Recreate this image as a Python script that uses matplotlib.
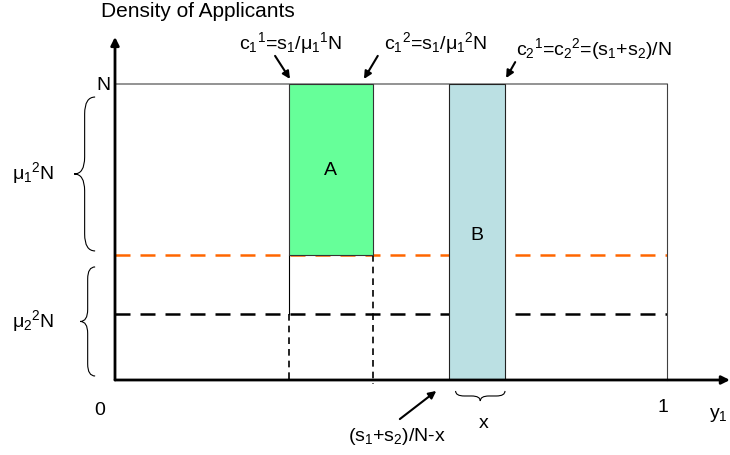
import matplotlib.pyplot as plt
from matplotlib.patches import Rectangle, PathPatch
from matplotlib.path import Path

# ─── Diagram values (x in share of applicants, y in units of N) ───────────────

C11 = 0.315          # c_1^1 = s_1 / mu_1^1 N
C12 = 0.467          # c_1^2 = s_1 / mu_1^2 N
C2 = 0.7065          # c_2^1 = c_2^2 = (s_1+s_2)/N
X_WIDTH = 0.1015     # x
ORANGE_LEVEL = 0.422
BLACK_LEVEL = 0.223
TOP = 1.0            # N

GREEN = "#66ff99"
BLUE = "#bbe0e3"
ORANGE = "#ff6600"

plt.rcParams.update({
    "font.family": ["Liberation Sans", "DejaVu Sans"],
    "mathtext.fontset": "custom",
    "mathtext.rm": "Liberation Sans",
    "mathtext.it": "Liberation Sans",
    "mathtext.default": "regular",
})

FS = 14


def brace_path(start, end, depth):
    # curly brace from start to end along one axis, tip pushed out by depth
    a, b = start, end
    m = (a + b) / 2
    s = 1 if b > a else -1
    k = min(0.35 * abs(b - a) / 2, abs(depth) * 1.5)
    pts = [
        (0, a),
        (depth / 2, a), (depth / 2, a + s * k),
        (depth / 2, m - s * k),
        (depth / 2, m), (depth, m),
        (depth / 2, m), (depth / 2, m + s * k),
        (depth / 2, b - s * k),
        (depth / 2, b), (0, b),
    ]
    codes = [Path.MOVETO,
             Path.CURVE3, Path.CURVE3,
             Path.LINETO,
             Path.CURVE3, Path.CURVE3,
             Path.CURVE3, Path.CURVE3,
             Path.LINETO,
             Path.CURVE3, Path.CURVE3]
    return pts, codes


def draw_brace(ax, base, start, end, depth, vertical=True):
    pts, codes = brace_path(start, end, depth)
    if vertical:
        verts = [(base + p, q) for p, q in pts]
    else:
        verts = [(q, base + p) for p, q in pts]
    ax.add_patch(PathPatch(Path(verts, codes), fill=False, lw=0.8,
                           edgecolor="black", clip_on=False))


fig = plt.figure(figsize=(7.3, 4.56), dpi=100)
ax = fig.add_axes([115 / 730, 75 / 456, 552 / 730, 296 / 456])
ax.set_xlim(0, 1)
ax.set_ylim(0, TOP)
ax.axis("off")

# outer box
ax.plot([0, 1], [TOP, TOP], color="#808080", lw=1.2, clip_on=False)
ax.plot([1, 1], [0, TOP], color="#404040", lw=0.8, clip_on=False)

# dashed levels
ax.plot([0, 1], [ORANGE_LEVEL, ORANGE_LEVEL], color=ORANGE, lw=1.8,
        dashes=(6, 4), clip_on=False, zorder=1)
ax.plot([0, 1], [BLACK_LEVEL, BLACK_LEVEL], color="black", lw=1.8,
        dashes=(6, 4), clip_on=False, zorder=1)

# rectangles A and B
ax.add_patch(Rectangle((C11, ORANGE_LEVEL), C12 - C11, TOP - ORANGE_LEVEL,
                       facecolor=GREEN, edgecolor="#333333", lw=0.8, zorder=3))
ax.add_patch(Rectangle((C2 - X_WIDTH, 0), X_WIDTH, TOP,
                       facecolor=BLUE, edgecolor="#222222", lw=0.8, zorder=3))

# guides under A
ax.plot([C11, C11], [ORANGE_LEVEL, BLACK_LEVEL], color="black", lw=0.8)
ax.plot([C11, C11], [BLACK_LEVEL, 0], color="black", lw=1.2, dashes=(4, 3))
ax.plot([C12, C12], [ORANGE_LEVEL, -0.015], color="black", lw=1.2,
        dashes=(4, 3), clip_on=False)

# axes with arrows
axis_arrow = dict(arrowstyle="-|>", lw=2, color="black",
                  mutation_scale=12, shrinkA=0, shrinkB=0)
ax.annotate("", xy=(0, 1.159), xytext=(0, 0), arrowprops=axis_arrow,
            annotation_clip=False, zorder=5)
ax.annotate("", xy=(1.114, 0), xytext=(0, 0), arrowprops=axis_arrow,
            annotation_clip=False, zorder=5)

# labels
ax.text(0.150, 1.247, "Density of Applicants", ha="center", va="center", fontsize=15)
ax.text(-0.009, TOP, "N", ha="right", va="center", fontsize=FS)
ax.text(-0.027, -0.098, "0", ha="center", va="center", fontsize=FS)
ax.text(0.993, -0.091, "1", ha="center", va="center", fontsize=FS)
ax.text(1.094, -0.115, "y$_1$", ha="center", va="center", fontsize=FS)
ax.text(-0.149, 0.703, "μ$_1$$^2$N", ha="center", va="center", fontsize=FS)
ax.text(-0.149, 0.203, "μ$_2$$^2$N", ha="center", va="center", fontsize=FS)
ax.text((C11 + C12) / 2, (TOP + ORANGE_LEVEL) / 2, "A", ha="center", va="center",
        fontsize=FS, zorder=4)
ax.text(C2 - X_WIDTH / 2, 0.49, "B", ha="center", va="center", fontsize=FS, zorder=4)
ax.text(0.668, -0.142, "x", ha="center", va="center", fontsize=FS)

arrow = dict(arrowstyle="-|>", lw=1.5, color="black", mutation_scale=11,
             shrinkA=0, shrinkB=0)
ax.text(0.319, 1.142, "c$_1$$^1$=s$_1$/μ$_1$$^1$N", ha="center", va="center", fontsize=FS)
ax.annotate("", xy=(C11 + 0.002, 1.017), xytext=(0.290, 1.095),
            arrowprops=arrow, annotation_clip=False)
ax.text(0.581, 1.142, "c$_1$$^2$=s$_1$/μ$_1$$^2$N", ha="center", va="center", fontsize=FS)
ax.annotate("", xy=(C12 - 0.016, 1.017), xytext=(0.476, 1.095),
            arrowprops=arrow, annotation_clip=False)
ax.text(0.868, 1.122, "c$_2$$^1$=c$_2$$^2$=(s$_1$+s$_2$)/N", ha="center",
        va="center", fontsize=FS)
ax.annotate("", xy=(C2 + 0.002, 1.020), xytext=(0.725, 1.074),
            arrowprops=arrow, annotation_clip=False)
ax.text(0.511, -0.189, "(s$_1$+s$_2$)/N-x", ha="center", va="center", fontsize=FS)
ax.annotate("", xy=(0.582, -0.037), xytext=(0.516, -0.132),
            arrowprops=arrow, annotation_clip=False)

# braces
draw_brace(ax, -0.036, 0.956, 0.436, -0.038, vertical=True)
draw_brace(ax, -0.036, 0.382, 0.0135, -0.027, vertical=True)
draw_brace(ax, -0.037, C2 - X_WIDTH + 0.012, C2, -0.034, vertical=False)

fig.savefig("out.png", dpi=100)
